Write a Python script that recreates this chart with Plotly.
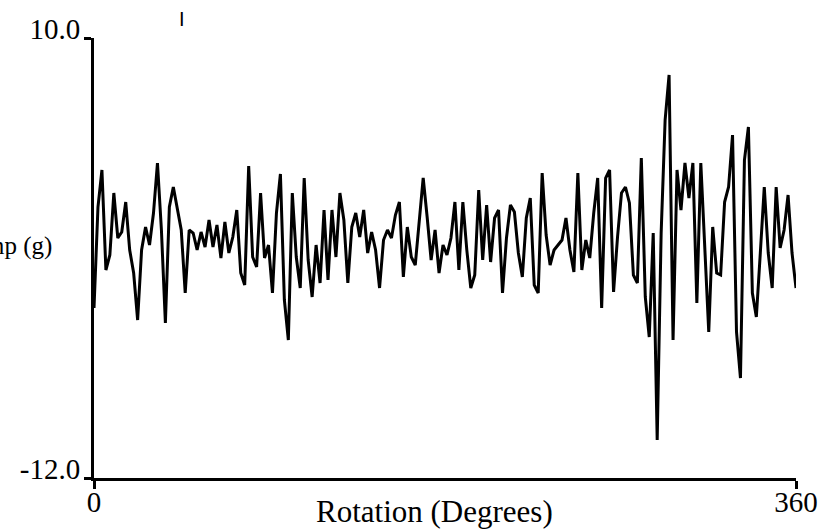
import numpy as np
import plotly.graph_objects as go

amp = [
    -3.5, 1.55, 3.4, -1.6, -0.85, 2.25, 0.0, 0.3, 1.8, -0.6,
    -1.75, -4.1, -0.6, 0.55, -0.35, 1.25, 3.75, 0.4, -4.25, 1.55,
    2.55, 1.4, 0.4, -2.75, 0.4, 0.25, -0.6, 0.3, -0.45, 0.9,
    -0.45, 0.65, -1.0, 0.8, -0.75, 0.05, 1.4, -1.75, -2.35, 3.6,
    -0.95, -1.45, 2.25, -1.0, -0.35, -2.75, 1.25, 3.2, -3.1, -5.1,
    2.25, -0.95, -2.5, 3.0, -1.1, -2.95, -0.35, -2.25, 1.4, -2.1,
    1.4, -0.95, 2.25, 0.9, -2.25, 0.55, 1.25, 0.05, 1.4, -0.75,
    0.3, -0.6, -2.5, -0.1, 0.4, 0.0, 1.15, 1.8, -1.95, 0.55,
    -0.95, -1.35, 0.8, 3.0, 1.05, -1.1, 0.4, -1.75, -0.35, -0.85,
    0.0, 1.8, -1.6, 1.8, -0.6, -2.5, -1.85, 2.4, -1.1, 1.65,
    -1.2, 1.0, 1.4, -2.75, 0.0, 1.65, 1.3, -0.75, -1.95, 1.0,
    2.0, -2.35, -2.75, 3.25, 0.15, -1.35, -0.6, -0.35, -0.1, 1.0,
    -0.6, -1.7, 3.25, -1.6, -0.1, -1.0, 1.25, 3.0, -3.5, 3.0,
    3.4, -2.7, 0.05, 2.25, 2.55, 1.75, -1.85, -2.25, 4.0, -2.95,
    -4.95, 0.25, -10.1, 0.25, 5.9, 8.15, -5.1, 3.4, 1.4, 3.75,
    2.0, 3.75, -3.25, 3.75, -0.35, -4.7, 0.55, -1.75, -1.85, 1.8,
    2.55, 5.15, -4.7, -7.0, 3.9, 5.55, -2.75, -3.95, -0.75, 2.55,
    -0.75, -2.5, 2.55, -0.5, 0.4, 2.15, -0.75, -2.5,
]
rotation = np.linspace(0, 360, len(amp))

y_ticks = [-12, 10]
y_tick_labels = ["-12.0", "10.0"]
x_ticks = [0, 360]
x_tick_labels = ["0", "360"]

SERIF = "Liberation Serif, Times New Roman, serif"
FS = 29

fig = go.Figure()
fig.add_trace(go.Scatter(
    x=rotation, y=amp, mode="lines",
    line=dict(color="black", width=3),
    hoverinfo="skip", showlegend=False,
))

L, R, T, B = 94, 31, 38, 51
W, H = 827, 529
pw, ph = W - L - R, H - T - B

fig.update_layout(
    width=W, height=H,
    margin=dict(l=L, r=R, t=T, b=B, pad=0, autoexpand=False),
    paper_bgcolor="white", plot_bgcolor="white",
    font=dict(family=SERIF, size=FS, color="black"),
    xaxis=dict(
        range=[0, 360], tickvals=x_ticks, ticktext=x_tick_labels,
        showgrid=False, zeroline=False, showline=True, automargin=False,
        linecolor="black", linewidth=3,
        ticks="outside", ticklen=8, tickwidth=3, tickcolor="black",
        ticklabelstandoff=-12,
        fixedrange=True,
    ),
    yaxis=dict(
        range=[-12, 10], tickvals=y_ticks, ticktext=y_tick_labels,
        showgrid=False, zeroline=False, showline=True, automargin=False,
        linecolor="black", linewidth=3,
        ticks="outside", ticklen=7, tickwidth=3, tickcolor="black",
        ticklabelshift=-9, ticklabelstandoff=-2,
        fixedrange=True,
    ),
)

# axis titles placed as in the reference (y title horizontal, partly cut off)
fig.add_annotation(
    text="Amp (g)", xref="paper", yref="paper",
    x=(54 - L) / pw, y=(H - B - 246) / ph,
    xanchor="right", yanchor="middle", showarrow=False,
    font=dict(family=SERIF, size=25, color="black"),
)
fig.add_annotation(
    text="Rotation (Degrees)", xref="paper", yref="paper",
    x=(434 - L) / pw, y=(H - B - 512) / ph,
    xanchor="center", yanchor="middle", showarrow=False,
    font=dict(family=SERIF, size=31, color="black"),
)
fig.add_annotation(
    text="I", xref="paper", yref="paper",
    x=(182 - L) / pw, y=(H - B - 19) / ph,
    xanchor="center", yanchor="middle", showarrow=False,
    font=dict(family="Liberation Sans, sans-serif", size=20, color="black"),
)

fig.write_html(
    "out.html",
    config={"displayModeBar": False, "staticPlot": True},
    post_script="document.body.style.margin='0';",
)
